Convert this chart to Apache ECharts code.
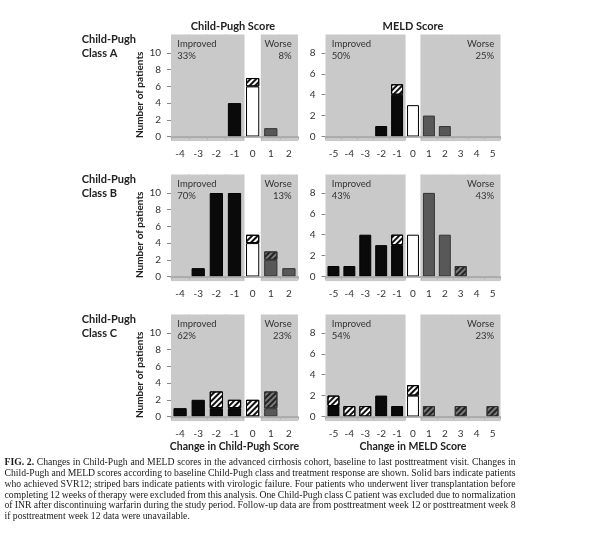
<!DOCTYPE html>
<html><head><meta charset="utf-8">
<script src="https://cdn.jsdelivr.net/npm/echarts@6/dist/echarts.min.js"></script>
<style>html,body{margin:0;padding:0;background:#fff}#c{width:600px;height:536px}</style>
</head><body><div id="c"></div>
<script>
// ---------- data ----------
const cpCats = ['-4','-3','-2','-1','0','1','2'];
const meldCats = ['-5','-4','-3','-2','-1','0','1','2','3','4','5'];
const rowLabels = ['Class A','Class B','Class C'];
// solid = achieved SVR12, striped = virologic failure
const cpSolidA    = [0,0,0,4,6,1,0];
const cpStripedA  = [0,0,0,0,1,0,0];
const meldSolidA  = [0,0,0,1,4,3,2,1,0,0,0];
const meldStripedA= [0,0,0,0,1,0,0,0,0,0,0];
const cpSolidB    = [0,1,10,10,4,2,1];
const cpStripedB  = [0,0,0,0,1,1,0];
const meldSolidB  = [1,1,4,3,3,4,8,4,0,0,0];
const meldStripedB= [0,0,0,0,1,0,0,0,1,0,0];
const cpSolidC    = [1,2,1,1,0,1,0];
const cpStripedC  = [0,0,2,1,2,2,0];
const meldSolidC  = [1,0,0,2,1,2,0,0,0,0,0];
const meldStripedC= [1,1,1,0,0,1,1,0,1,0,1];
const cpImproved  = ['33%','70%','62%'];
const cpWorse     = ['8%','13%','23%'];
const meldImproved= ['50%','43%','54%'];
const meldWorse   = ['25%','43%','23%'];
const cpTicks   = [0,2,4,6,8,10];
const meldTicks = [0,2,4,6,8];
const captionLines = [
 'FIG. 2. Changes in Child-Pugh and MELD scores in the advanced cirrhosis cohort, baseline to last posttreatment visit. Changes in',
 'Child-Pugh and MELD scores according to baseline Child-Pugh class and treatment response are shown. Solid bars indicate patients',
 'who achieved SVR12; striped bars indicate patients with virologic failure. Four patients who underwent liver transplantation before',
 'completing 12 weeks of therapy were excluded from this analysis. One Child-Pugh class C patient was excluded due to normalization',
 'of INR after discontinuing warfarin during the study period. Follow-up data are from posttreatment week 12 or posttreatment week 8',
 'if posttreatment week 12 data were unavailable.'
];

// ---------- layout / style ----------
const FONT = 'Lato, "Open Sans", sans-serif';
const rowTops = [34.5, 174.5, 314.5];
const plotH = 102;      // pixels from top of shading to zero line
const belowPx = 4.6;    // shading below the zero line
const cols = [
  {left:171, width:127, px:8.35, cats:cpCats, ticks:cpTicks},
  {left:325.5, width:175, px:10.45, cats:meldCats, ticks:meldTicks}
];
const panels = [
  [cpSolidA, cpStripedA, cpImproved[0], cpWorse[0]],
  [meldSolidA, meldStripedA, meldImproved[0], meldWorse[0]],
  [cpSolidB, cpStripedB, cpImproved[1], cpWorse[1]],
  [meldSolidB, meldStripedB, meldImproved[1], meldWorse[1]],
  [cpSolidC, cpStripedC, cpImproved[2], cpWorse[2]],
  [meldSolidC, meldStripedC, meldImproved[2], meldWorse[2]]
];
const SHADE = '#c9c9c9', BLACK = '#0a0a0a', WHITE = '#ffffff', DARK = '#585858', STRIPE_DARK = '#7a7a7a';
const decal = {symbol:'rect', symbolSize:1, dashArrayX:[1,0], dashArrayY:[1.7,1.9], rotation:-Math.PI/4, color:'#111'};

const grid = [], xAxis = [], yAxis = [], series = [], graphic = [];
panels.forEach((p, g) => {
  const row = Math.floor(g/2), col = cols[g%2];
  const T = rowTops[row];
  const ymax = plotH/col.px, ymin = -belowPx/col.px;
  grid.push({left:col.left, width:col.width, top:T, height:plotH+belowPx});
  const isBottom = row === 2;
  xAxis.push({
    type:'category', gridIndex:g, data:col.cats, z:5,
    axisLine:{onZero:true, lineStyle:{color:'#a0a0a0', width:1.5}},
    axisTick:{show:true, length:3, lineStyle:{color:'#b0b0b0'}},
    axisLabel:{interval:0, margin:8, fontSize:10, color:'#333', fontFamily:FONT},
    name: isBottom ? (g%2===0 ? 'Change in Child-Pugh Score' : 'Change in MELD Score') : '',
    nameLocation:'middle', nameGap:20.5,
    nameTextStyle:{fontSize:10.5, fontWeight:'bold', color:'#222', fontFamily:FONT}
  });
  xAxis.push({type:'category', gridIndex:g, data:col.cats, show:false});
  yAxis.push({
    type:'value', gridIndex:g, min:ymin, max:ymax,
    axisLine:{show:false}, splitLine:{show:false},
    axisTick:{show:true, length:4, customValues:col.ticks, lineStyle:{color:'#888'}},
    axisLabel:{customValues:col.ticks, margin:10, fontSize:10, color:'#333', fontFamily:FONT},
    name: g%2===0 ? 'Number of patients' : '',
    nameLocation:'middle', nameGap:26, nameRotate:90,
    nameTextStyle:{fontSize:10, fontWeight:'bold', color:'#222', fontFamily:FONT, padding:[0,14,0,0]}
  });
  const xi = g*2;
  const bgW = Math.ceil(col.width/col.cats.length) + 1;
  // shaded Improved / Worse regions
  series.push({type:'bar', xAxisIndex:xi+1, yAxisIndex:g, stack:'bg'+g, barWidth:bgW, z:1, silent:true,
    itemStyle:{color:SHADE, borderWidth:0},
    data:col.cats.map(c => c==='0' ? '-' : ymax)});
  series.push({type:'bar', xAxisIndex:xi+1, yAxisIndex:g, stack:'bg'+g, barWidth:bgW, z:1, silent:true,
    itemStyle:{color:SHADE, borderWidth:0},
    data:col.cats.map(c => c==='0' ? '-' : ymin)});
  const bw = g%2===0 ? '73%' : '75%';
  // solid bars
  series.push({type:'bar', xAxisIndex:xi, yAxisIndex:g, stack:'d'+g, barWidth:bw, z:3,
    itemStyle:{borderColor:'#000', borderWidth:1},
    data:p[0].map((v,i) => {
      const c = +col.cats[i];
      return {value: v || '-', itemStyle:{color: c<0 ? BLACK : (c===0 ? WHITE : DARK), borderColor: c>0 ? '#333' : '#000'}};
    })});
  // striped bars, light base (improved / unchanged)
  series.push({type:'bar', xAxisIndex:xi, yAxisIndex:g, stack:'d'+g, barWidth:bw, z:3,
    itemStyle:{color:WHITE, borderColor:'#000', borderWidth:1, decal:decal},
    data:p[1].map((v,i) => (+col.cats[i] <= 0 && v) ? v : '-')});
  // striped bars, dark base (worse)
  series.push({type:'bar', xAxisIndex:xi, yAxisIndex:g, stack:'d'+g, barWidth:bw, z:3,
    itemStyle:{color:STRIPE_DARK, borderColor:'#333', borderWidth:1, decal:Object.assign({}, decal, {color:'#222'})},
    data:p[1].map((v,i) => (+col.cats[i] > 0 && v) ? v : '-')});
  // Improved / Worse annotations
  graphic.push({type:'text', left:col.left+6.3, top:T+3.5, z:10, silent:true,
    style:{text:'Improved\n'+p[2], font:'9.5px '+FONT, fill:'#333', lineHeight:12}});
  graphic.push({type:'text', right:600-(col.left+col.width-6.3), top:T+3.5, z:10, silent:true,
    style:{text:'Worse\n'+p[3], font:'9.5px '+FONT, fill:'#333', lineHeight:12, align:'right', textAlign:'right'}});
});

// row labels
rowLabels.forEach((r, i) => {
  graphic.push({type:'text', left:81.7, top:rowTops[i]-2.3, silent:true,
    style:{text:'Child-Pugh\n'+r, font:'bold 11px '+FONT, fill:'#222', lineHeight:14}});
});
// column titles
[['Child-Pugh Score', 233], ['MELD Score', 413]].forEach(t => {
  graphic.push({type:'text', x:t[1], y:26, silent:true,
    style:{text:t[0], font:'bold 11px '+FONT, fill:'#222', align:'center', verticalAlign:'middle', textAlign:'center', textVerticalAlign:'middle'}});
});

// caption, justified
(function(){
  const SERIF = '"Liberation Serif", "DejaVu Serif", serif';
  const ctx = document.createElement('canvas').getContext('2d');
  const x0 = 4.5, x1 = 515.5, W = x1 - x0;
  const measure = (w, size, bold) => { ctx.font = (bold?'bold ':'') + size + 'px ' + SERIF; return ctx.measureText(w).width; };
  const isBold = (li, wi) => li===0 && wi<2;
  let maxW = 0;
  captionLines.forEach((l, li) => {
    const ws = l.split(' ');
    let w = 0; ws.forEach((wd, wi) => w += measure(wd, 10, isBold(li,wi)));
    w += (ws.length-1)*measure(' ', 10, false)*0.8;
    maxW = Math.max(maxW, w);
  });
  const size = Math.min(9.8, 10*(W-1)/maxW);
  captionLines.forEach((l, li) => {
    const ws = l.split(' ');
    const widths = ws.map((wd, wi) => measure(wd, size, isBold(li,wi)));
    const sum = widths.reduce((a,b)=>a+b, 0);
    const last = li === captionLines.length-1;
    const gap = last ? measure(' ', size, false) : (W - sum)/(ws.length-1);
    let x = x0;
    const y = 462.7 + li*10.8;
    ws.forEach((wd, wi) => {
      graphic.push({type:'text', x:x, y:y, silent:true,
        style:{text:wd, font:(isBold(li,wi)?'bold ':'')+size+'px '+SERIF, fill:'#1a1a1a', verticalAlign:'middle', textVerticalAlign:'middle'}});
      x += widths[wi] + gap;
    });
  });
})();

const chart = echarts.init(document.getElementById('c'), null, {renderer:'canvas', devicePixelRatio:1});
chart.setOption({animation:false, backgroundColor:'#fff', grid, xAxis, yAxis, series, graphic});
</script>
</body></html>
